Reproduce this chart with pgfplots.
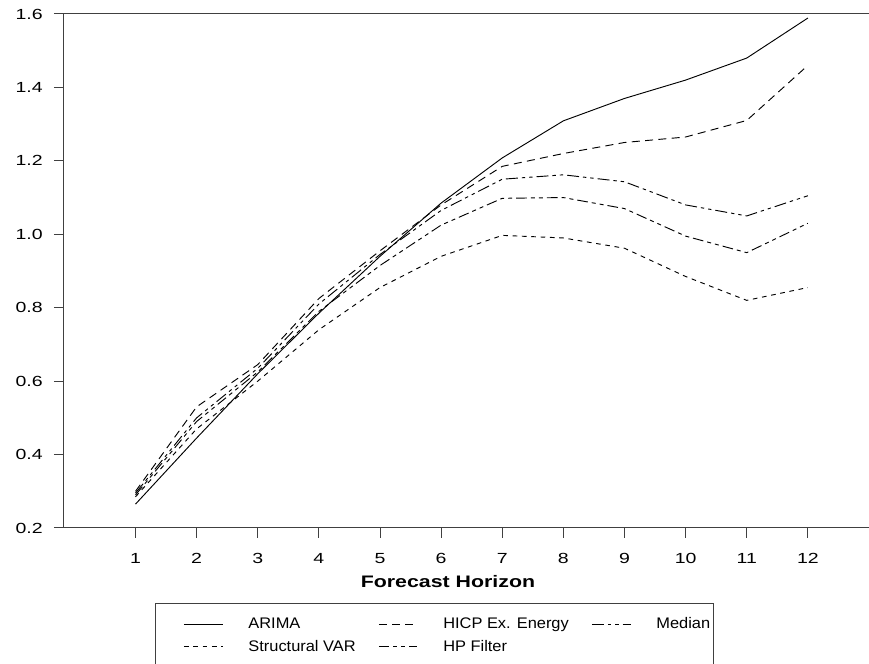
\documentclass[border=0pt]{standalone}
\usepackage{fontspec}
\setmainfont{Liberation Sans}
\newfontfamily\tickfont[FakeStretch=1.33]{Liberation Sans}
\newfontfamily\labfont[FakeStretch=1.28]{Liberation Sans}
\newfontfamily\legfont[FakeStretch=1.07]{Liberation Sans}
\usepackage{pgfplots}
\pgfplotsset{compat=1.18}

\pgfplotstableread{
h    arima  hicp   median svar   hp
1    0.265  0.300  0.295  0.285  0.290
2    0.445  0.530  0.500  0.470  0.490
3    0.620  0.645  0.635  0.600  0.625
4    0.785  0.825  0.810  0.740  0.790
5    0.940  0.955  0.945  0.855  0.915
6    1.085  1.080  1.065  0.940  1.025
7    1.208  1.185  1.150  0.997  1.098
8    1.309  1.220  1.162  0.990  1.100
9    1.370  1.250  1.143  0.962  1.070
10   1.420  1.265  1.080  0.885  0.995
11   1.480  1.310  1.050  0.820  0.950
12   1.589  1.460  1.105  0.855  1.030
}\fcdata

\begin{document}
\begin{tikzpicture}
\begin{axis}[
    at={(0,0)}, anchor=south west,
    scale only axis,
    width=612pt, height=385.5pt,
    xmin=-0.17, xmax=13.18,
    ymin=0.2, ymax=1.6,
    xtick={1,...,12},
    ytick={0.2,0.4,...,1.6},
    xtick pos=lower, ytick pos=left,
    tick align=outside,
    major tick length=7.5pt,
    axis line style={black!75, line width=0.75pt},
    every tick/.style={black!75, line width=0.75pt},
    /pgf/number format/assume math mode=true,
    yticklabel style={/pgf/number format/fixed, /pgf/number format/fixed zerofill, /pgf/number format/precision=1, xshift=-5pt},
    xticklabel style={yshift=-8pt},
    ticklabel style={font=\tickfont\fontsize{11}{13}\selectfont},
    xlabel={\textbf{Forecast Horizon}},
    xlabel style={font=\labfont\fontsize{12.5}{14}\selectfont, at={(axis description cs:0.4706,-0.104)}, anchor=center},
    legend columns=3,
    legend cell align=left,
    legend image code/.code={\path (0pt,0pt); \draw[#1] (20.5pt,0pt) -- (49.5pt,0pt);},
    legend style={
        at={(axis description cs:0.1115,-0.146)}, anchor=north west,
        draw=black!75, line width=0.75pt,
        font=\legfont\fontsize{11.5}{13}\selectfont,
        inner xsep=0.5pt, inner ysep=8.5pt,
        row sep=3pt,
        /tikz/every odd column/.append style={column sep=17pt},
        /tikz/every even column/.append style={column sep=-5.5pt},
    },
    every axis plot/.append style={black, line width=0.7pt},
]
\addplot[black, solid] table[x=h, y=arima] {\fcdata};
\addlegendentry{ARIMA}
\addplot[dash pattern=on 6pt off 4pt] table[x=h, y=hicp] {\fcdata};
\addlegendentry{HICP Ex. Energy}
\addplot[dash pattern=on 9pt off 3pt on 2.5pt off 3pt on 2.5pt off 3pt] table[x=h, y=median] {\fcdata};
\addlegendentry{Median}
\addplot[dash pattern=on 3.5pt off 3.5pt] table[x=h, y=svar] {\fcdata};
\addlegendentry{Structural VAR}
\addplot[dash pattern=on 8pt off 3pt on 3pt off 3pt on 3pt off 3pt] table[x=h, y=hp] {\fcdata};
\addlegendentry{HP Filter}
\end{axis}
\pgfresetboundingbox
\path[use as bounding box] (-48pt,-102pt) rectangle (603.75pt,396pt);
\end{tikzpicture}
\end{document}
